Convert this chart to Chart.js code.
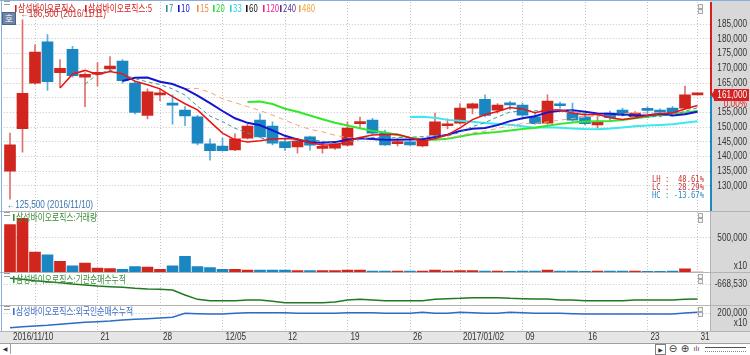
<!DOCTYPE html>
<html>
<head>
<meta charset="utf-8">
<script src="https://cdn.jsdelivr.net/npm/chart.js@4.4.1/dist/chart.umd.min.js"></script>
<style>
  body { margin: 0; background: #fff; }
  #wrap { position: relative; width: 750px; height: 355px; overflow: hidden; }
  #myChart { position: absolute; left: 0; top: 0; }
  .txt { position: absolute; white-space: pre; font: 10px/10px 'Noto Sans CJK KR', sans-serif; transform: scaleX(0.78); transform-origin: 0 50%; }
  .mk { display: inline-block; width: 2px; height: 7px; margin-right: 2px; }
  .grip { position: absolute; left: 4px; width: 6px; height: 2px; border-top: 1px solid #9a9a9a; border-bottom: 1px solid #9a9a9a; }
  .btns { position: absolute; left: 698px; width: 11px; height: 5px; }
  .btns i { float: left; width: 3px; height: 3px; margin-right: 1px; border: 1px solid #a8a8a8; background: #f4f4f4; }
  .stat { position: absolute; right: 46px; white-space: pre; font: 9px/9px 'DejaVu Sans Mono', monospace; transform: scaleX(0.8); transform-origin: 100% 50%; }
  .sb { position: absolute; top: 344px; height: 10px; font: 8px/10px 'DejaVu Sans', sans-serif; color: #333; text-align: center; }
</style>
</head>
<body>
<div id="wrap">
  <canvas id="myChart" width="750" height="343"></canvas>
  <div id="overlay"></div>
  <div style="position:absolute;left:0;top:343px;width:750px;height:12px;border-top:1px solid #a0a0a0;background:#fff"></div>
  <div class="sb" style="left:0;width:10px;border-right:1px solid #a0a0a0;font-size:6px">&#9664;</div>
  <div class="sb" style="left:655px;width:9px;border:1px solid #808080;height:9px;font-size:6px;line-height:9px">&#9654;</div>
  <div class="sb" style="left:668px;width:10px;font-size:10px">&#8854;</div>
  <div class="sb" style="left:680px;width:10px;font-size:10px">&#8853;</div>
  <div class="sb" style="left:692px;width:9px;font-size:7px">ılı</div>
  <div style="position:absolute;left:705px;top:347px;width:41px;height:3px;border-top:1px solid #555;border-bottom:1px dotted #888"></div>
</div>
<script>
// trading days shown on the chart
var days = ['2016/11/10','2016/11/11','2016/11/14','2016/11/15','2016/11/16','2016/11/17','2016/11/18','2016/11/21','2016/11/22','2016/11/23',
  '2016/11/24','2016/11/25','2016/11/28','2016/11/29','2016/11/30','2016/12/01','2016/12/02','2016/12/05','2016/12/06','2016/12/07',
  '2016/12/08','2016/12/09','2016/12/12','2016/12/13','2016/12/14','2016/12/15','2016/12/16','2016/12/19','2016/12/20','2016/12/21',
  '2016/12/22','2016/12/23','2016/12/26','2016/12/27','2016/12/28','2016/12/29','2017/01/02','2017/01/03','2017/01/04','2017/01/05',
  '2017/01/06','2017/01/09','2017/01/10','2017/01/11','2017/01/12','2017/01/13','2017/01/16','2017/01/17','2017/01/18','2017/01/19',
  '2017/01/20','2017/01/23','2017/01/24','2017/01/25','2017/01/26','2017/01/31']

var tickIdx = [0, 2, 7, 12, 17, 22, 27, 32, 36, 41, 46, 51, 55]
var tickText = ['2016/11/10', '', '21', '28', '12/05', '12', '19', '26', '2017/01/02', '09', '16', '23', '31']
var priceTicks = [130000, 135000, 140000, 145000, 150000, 155000, 160000, 165000, 170000, 175000, 180000, 185000]

var openP = [135000,149500,165000,179000,168500,176500,167000,168000,169800,172500,
  165000,154000,161000,157800,155800,153500,144300,143600,142300,146300,
  152400,150400,145000,143300,146700,142800,142900,143900,151200,152400,
  148000,144400,145000,143600,147300,150500,151400,156500,159500,155800,
  158000,157500,153500,151400,157700,154800,153500,150800,154800,155800,
  153500,156000,155400,156500,156500,161000]
var highP = [148000,186500,178000,181500,173000,177500,168500,172000,174000,173000,
  165500,163000,163000,161000,157000,154000,146000,146300,147700,151000,
  154500,151800,146300,146000,147000,144600,145000,151800,153400,153000,
  149000,146300,146000,146500,154800,152800,158000,158200,161000,158000,
  158800,158200,154800,161000,158500,158200,154000,153500,155500,156500,
  155300,157000,156200,157000,164000,161000]
var lowP = [125500,141500,164500,162500,163500,167000,157000,164000,169000,165000,
  154500,152800,159000,151000,150500,144000,138800,141800,142000,146000,
  146500,144000,142000,141200,142200,141200,142400,143500,150000,147500,
  143800,143600,143800,143300,147000,149400,151000,154500,153500,154800,
  156000,153500,151000,151000,156500,152000,150800,149700,152500,153800,
  153000,154800,153500,153800,156000,161000]
var closeP = [144000,161500,175500,165500,170000,167500,168000,168500,170800,165800,
  155000,162000,161500,157500,153800,144600,142000,142000,146000,150400,
  146700,144600,143000,145300,143900,143000,144300,149700,151500,148000,
  144000,144600,144000,145800,151800,150800,156500,157900,154000,157500,
  157600,154100,151200,158900,157300,152400,151200,152000,153200,154200,
  154800,155700,155100,154200,161000,161000]

var volume = [6970000,7880000,2930000,2530000,1570000,910000,1310000,560000,500000,400000,
  810000,710000,400000,910000,2320000,810000,660000,400000,400000,300000,
  300000,300000,300000,200000,200000,200000,200000,300000,300000,150000,
  130000,140000,120000,140000,300000,150000,220000,200000,150000,120000,
  110000,150000,140000,300000,120000,130000,110000,140000,130000,120000,
  140000,110000,110000,120000,450000,0]

// 기관 순매수 누적
var instNet = [-441700,-481700,-535200,-575200,-615200,-668500,-708500,-748500,-775200,-801900,
  -841900,-868500,-881900,-908500,-1108500,-1281900,-1335200,-1335200,-1335200,-1308500,
  -1308500,-1361900,-1415200,-1415200,-1415200,-1415200,-1388500,-1308500,-1281900,-1308500,
  -1335200,-1335200,-1335200,-1335200,-1281900,-1255200,-1241900,-1215200,-1215200,-1215200,
  -1241900,-1255200,-1268500,-1268500,-1308500,-1308500,-1335200,-1335200,-1335200,-1335200,
  -1308500,-1308500,-1308500,-1308500,-1281900,-1268500]

// 외국인 순매수 누적
var foreignNet = [1283000,1333000,1367000,1400000,1450000,1500000,1550000,1583000,1617000,1667000,
  1700000,1733000,1767000,1800000,2000000,1983000,1967000,1967000,2000000,2033000,
  2033000,2033000,2033000,2000000,2000000,2000000,2000000,2033000,2033000,2033000,
  2000000,2000000,2000000,2050000,2000000,2000000,2050000,2033000,2000000,2000000,
  2050000,2033000,2000000,2000000,2000000,1983000,1967000,1967000,1967000,1967000,
  1967000,1967000,1967000,1967000,2017000,2050000]

var maDays = [5, 7, 10, 15, 20, 33]
var maColors = ['#ee1111', '#3a9c9c', '#1414d4', '#f4a27c', '#33e82a', '#3ae8ee']
var maWidths = [1.5, 1, 2, 1, 2, 2]
var maDash = [[], [4, 3], [], [5, 4], [], []]

var RED = '#d0261e', BLUE = '#1a86c2'
var numFont = "10px 'Liberation Sans', Arial, sans-serif"

function sma(src, n){
    return src.map(function(v, i){
        if(i < n - 1) return null
        var s = 0
        for(var k = i - n + 1; k <= i; k++) s += src[k]
        return s / n
    })
}
function fmt(v){ return Math.round(v).toLocaleString('en-US') }

// the HTS font is a narrow bitmap one, so squeeze the canvas text a bit
function narrowText(c, text, x, y, align){
    c.save()
    c.translate(x, y)
    c.scale(0.82, 1)
    c.textAlign = align
    c.fillText(text, 0, 0)
    c.restore()
}

var up = closeP.map(function(c, i){ return c >= openP[i] })
var idx = closeP.map(function(c, i){ return i })

var datasets = []
maDays.forEach(function(n, k){
    datasets.push({
        type: 'line', yAxisID: 'y', order: 0,
        data: sma(closeP, n).map(function(v, i){ return {x: i, y: v} }),
        borderColor: maColors[k], borderWidth: maWidths[k], borderDash: maDash[k],
        pointRadius: 0, tension: 0
    })
})
// candle bodies + wicks
datasets.push({
    type: 'bar', yAxisID: 'y', order: 1, grouped: false, barThickness: 11, minBarLength: 2,
    data: idx.map(function(i){ return {x: i, y: [openP[i], closeP[i]]} }),
    backgroundColor: up.map(function(u){ return u ? RED : BLUE })
})
datasets.push({
    type: 'bar', yAxisID: 'y', order: 2, grouped: false, barThickness: 1,
    data: idx.map(function(i){ return {x: i, y: [lowP[i], highP[i]]} }),
    backgroundColor: up.map(function(u){ return u ? '#e07070' : '#5aaede' })
})
datasets.push({
    type: 'bar', yAxisID: 'yVol', order: 1, grouped: false, barThickness: 11,
    data: idx.map(function(i){ return {x: i, y: volume[i]} }),
    backgroundColor: up.map(function(u){ return u ? RED : BLUE })
})
datasets.push({
    type: 'line', yAxisID: 'yInst', order: 0,
    data: idx.map(function(i){ return {x: i, y: instNet[i]} }),
    borderColor: '#1f7a1f', borderWidth: 1.5, pointRadius: 0
})
datasets.push({
    type: 'line', yAxisID: 'yFor', order: 0,
    data: idx.map(function(i){ return {x: i, y: foreignNet[i]} }),
    borderColor: '#2a6cc8', borderWidth: 1.5, pointRadius: 0
})

var hi = highP.indexOf(Math.max.apply(null, highP))
var lo = lowP.indexOf(Math.min.apply(null, lowP))
var last = closeP.length - 1

// backgrounds, panel frames, axis labels, markers
var marks = {
    id: 'marks',
    beforeDraw: function(chart){
        var c = chart.ctx, a = chart.chartArea
        c.save()
        c.fillStyle = '#fff'; c.fillRect(0, 0, chart.width, chart.height)
        c.fillStyle = '#d8d8d8'; c.fillRect(a.right, 0, chart.width - a.right, a.bottom)
        c.fillStyle = '#e6e6e6'; c.fillRect(0, a.bottom, chart.width, chart.height - a.bottom)
        c.restore()
    },
    afterDraw: function(chart){
        var c = chart.ctx, a = chart.chartArea, s = chart.scales, y = s.y
        var py = Math.round(y.getPixelForValue(closeP[last]))
        c.save()
        c.strokeStyle = '#b4b4b4'; c.lineWidth = 1
        ;[s.y.bottom, s.yVol.bottom, s.yInst.bottom, s.yFor.bottom].forEach(function(b){
            c.beginPath(); c.moveTo(0, Math.round(b) + 0.5); c.lineTo(chart.width, Math.round(b) + 0.5); c.stroke()
        })
        c.beginPath(); c.moveTo(a.right + 0.5, s.yVol.top); c.lineTo(a.right + 0.5, a.bottom); c.stroke()
        c.strokeStyle = '#86aedc'
        c.beginPath(); c.moveTo(1.5, 0); c.lineTo(1.5, a.bottom); c.moveTo(0, 0.5); c.lineTo(chart.width, 0.5); c.stroke()

        // tick labels of the four right axes and the date axis
        c.font = numFont; c.textBaseline = 'middle'; c.fillStyle = '#333'
        ;['y', 'yVol', 'yInst', 'yFor'].forEach(function(id){
            var sc = s[id]
            sc.ticks.forEach(function(t, i){
                var ty = sc.getPixelForValue(t.value)
                if(id === 'y' && Math.abs(ty - py) < 8) return  // hidden behind the price box
                narrowText(c, sc.options.ticks.callback.call(sc, t.value, i, sc.ticks), 747, ty, 'right')
            })
        })
        s.x.ticks.forEach(function(t, i){
            narrowText(c, tickText[i], s.x.getPixelForValue(t.value) + 3, a.bottom + 6.5, 'left')
        })
        narrowText(c, 'x10', 747, s.yVol.bottom - 6, 'right')
        narrowText(c, 'x10', 747, s.yFor.getPixelForValue(2000000) + 10, 'right')

        // current price bar on the right edge
        c.fillStyle = '#d42020'; c.fillRect(a.right, y.top, 2, py - y.top)
        c.fillStyle = BLUE; c.fillRect(a.right, py, 2, y.bottom - py)
        c.fillStyle = '#d42020'
        c.fillRect(a.right + 4, py - 6, 35, 12)
        c.beginPath(); c.moveTo(a.right + 1, py); c.lineTo(a.right + 4, py - 4); c.lineTo(a.right + 4, py + 4); c.fill()
        c.fillStyle = '#fff'; narrowText(c, fmt(closeP[last]), 747, py, 'right')
        var chg = (closeP[last] - closeP[last - 1]) / closeP[last - 1] * 100
        c.fillStyle = '#e02020'; narrowText(c, chg.toFixed(2) + '%', 747, py + 9, 'right')

        // high / low marks
        c.fillStyle = '#cc2a2a'
        narrowText(c, '\u2190' + fmt(highP[hi]) + ' (' + days[hi] + ')', s.x.getPixelForValue(hi) - 2, y.getPixelForValue(highP[hi]) - 6, 'left')
        c.fillStyle = '#3a74ae'
        narrowText(c, '\u2190' + fmt(lowP[lo]) + ' (' + days[lo] + ')', s.x.getPixelForValue(lo) - 3, y.getPixelForValue(lowP[lo]) + 6, 'left')
        c.restore()
    }
}

function rightAxis(weight, stackWeight, min, max, ticks, label){
    return {
        type: 'linear', position: 'right', stack: 'panes', weight: weight, stackWeight: stackWeight,
        min: min, max: max, offset: false,
        afterBuildTicks: function(sc){ sc.ticks = ticks.map(function(v){ return {value: v} }) },
        afterFit: function(sc){ sc.width = 40 },
        ticks: { display: false, callback: label },
        grid: { color: '#c4c4c4', drawTicks: false },
        border: { display: false, dash: [1, 2] }
    }
}

var ctx = document.getElementById('myChart').getContext('2d')
var myChart = new Chart(ctx, {
    type: 'bar',
    data: { datasets: datasets },
    plugins: [marks],
    options: {
        responsive: false,
        animation: false,
        layout: { padding: { top: 2, left: 3.75, right: 0, bottom: 0 } },
        plugins: { legend: { display: false }, tooltip: { enabled: false } },
        scales: {
            x: {
                type: 'linear', position: 'bottom', min: -0.5, max: 56, offset: false,
                afterBuildTicks: function(sc){ sc.ticks = tickIdx.map(function(v){ return {value: v} }) },
                afterFit: function(sc){ sc.height = 12 },
                ticks: { display: false },
                grid: { offset: false, drawTicks: false, color: function(c){ return c.index === 0 ? 'rgba(0,0,0,0)' : '#c4c4c4' } },
                border: { display: false, dash: [1, 2] }
            },
            y: rightAxis(0, 209, 121500, 192560, priceTicks, function(v){ return fmt(v) }),
            yVol: rightAxis(1, 61, 0, 8970000, [5000000], function(v){ return fmt(v / 10) }),
            yInst: rightAxis(2, 33, -1508530, -188530, [-668530], function(v){ return fmt(v) }),
            yFor: rightAxis(3, 26, 1115000, 2415000, [2000000], function(v){ return fmt(v / 10) })
        }
    }
})

// titles, legend and small panel widgets
var overlay = document.getElementById('overlay')
function addText(x, top, text, color, mark){
    var d = document.createElement('div')
    d.className = 'txt'
    d.style.left = x + 'px'; d.style.top = top + 'px'; d.style.color = color
    d.innerHTML = (mark ? '<span class="mk" style="background:' + color + '"></span>' : '') + text
    overlay.appendChild(d)
}
var legendItems = [
    [15, '삼성바이오로직스', '#d42020'], [85, '삼성바이오로직스:5', '#e01818'],
    [166, '7', '#2e8b8b'], [178, '10', '#1414d4'], [197, '15', '#f08848'], [213, '20', '#22dd22'],
    [230, '33', '#22ccdd'], [246, '60', '#111111'], [263, '120', '#ee2288'], [280, '240', '#553399'], [299, '480', '#f0a040']
]
legendItems.forEach(function(it){ addText(it[0], 3, it[1], it[2], true) })
addText(13, 212, '삼성바이오로직스:거래량', '#3a8a3a', true)
addText(13, 274, '삼성바이오로직스:기관순매수누적', '#3a8a3a', true)
addText(13, 306, '삼성바이오로직스:외국인순매수누적', '#3c6cc8', true)

;[1, 212, 273, 306].forEach(function(t){
    var g = document.createElement('div'); g.className = 'grip'; g.style.top = t + 'px'; overlay.appendChild(g)
})
;[4, 213, 274, 307].forEach(function(t){
    var b = document.createElement('div'); b.className = 'btns'; b.style.top = t + 'px'
    b.innerHTML = '<i></i><i></i>'; overlay.appendChild(b)
})
var ho = document.createElement('div')
ho.style.cssText = 'position:absolute;left:2px;top:12px;width:12px;height:11px;background:#6c84a8;border:1px solid #4d6486;color:#fff;font:9px/11px "Noto Sans CJK KR",sans-serif;text-align:center'
ho.textContent = '호'
overlay.appendChild(ho)

// range statistics
var maxH = highP[hi], minL = lowP[lo], lastC = closeP[last]
function pct(v){ var s = v.toFixed(2) + '%'; while(s.length < 7) s = ' ' + s; return s }
var stats = [
    ['LH : ' + pct((maxH - minL) / minL * 100), '#c83232', 175],
    ['LC : ' + pct((lastC - minL) / minL * 100), '#c83232', 183],
    ['HC : ' + pct((lastC - maxH) / maxH * 100), '#2a8ac8', 191]
]
stats.forEach(function(s){
    var d = document.createElement('div')
    d.className = 'stat'; d.style.top = s[2] + 'px'; d.style.color = s[1]; d.textContent = s[0]
    overlay.appendChild(d)
})
</script>
</body>
</html>
